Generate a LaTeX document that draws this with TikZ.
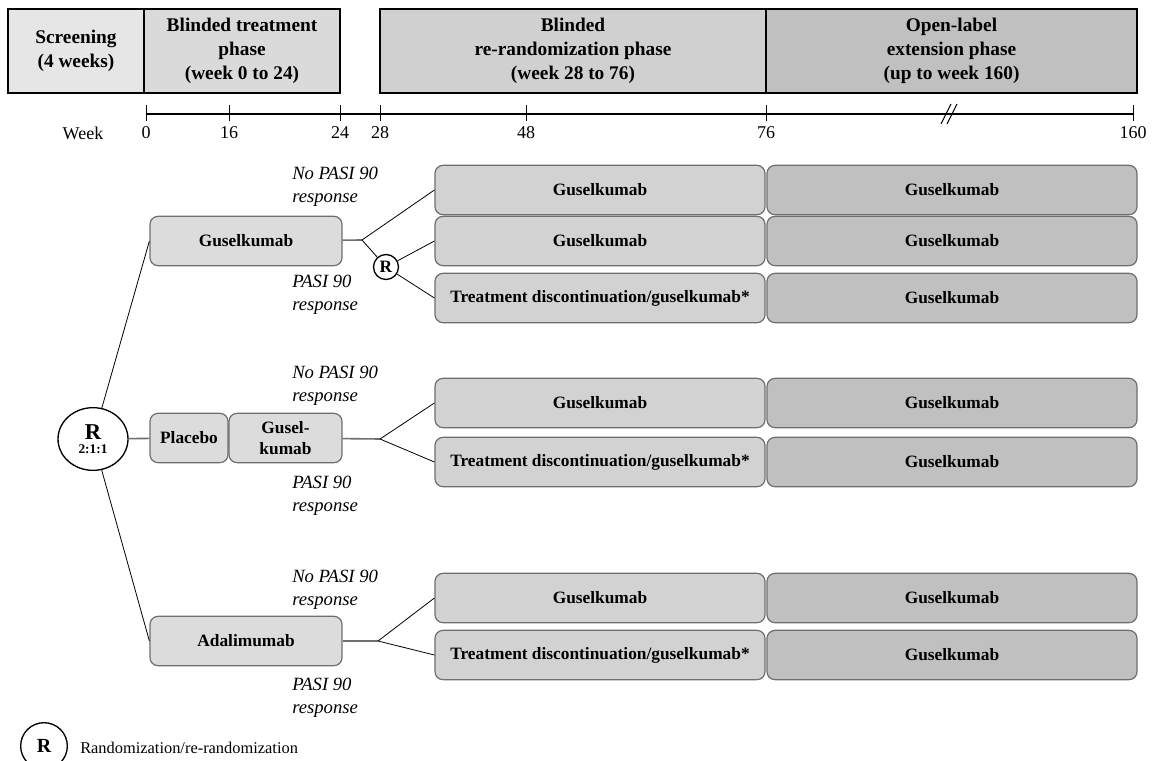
\documentclass[tikz,border=0pt]{standalone}
\usepackage{fontspec}
\setmainfont{Liberation Serif}
\usetikzlibrary{shapes.geometric}
\definecolor{screengray}{HTML}{E6E6E6}
\definecolor{treatgray}{HTML}{DADADA}
\definecolor{rerandgray}{HTML}{D1D0D1}
\definecolor{opengray}{HTML}{C0C0C0}
\definecolor{armgray}{HTML}{DCDCDC}
\definecolor{blindgray}{HTML}{D3D2D3}
\definecolor{edgegray}{HTML}{6E6E6E}
\begin{document}
\begin{tikzpicture}[x=0.75pt, y=-0.75pt,
    phase_box/.style={draw, line width=1.3pt, minimum height=63pt, inner sep=0pt, align=center,
        font=\fontsize{14.5}{18}\selectfont\bfseries},
    arm_box/.style={draw=edgegray, line width=0.9pt, rounded corners=6pt, minimum height=37pt,
        inner sep=0pt, align=center, font=\fontsize{13}{15.5}\selectfont\bfseries},
    blind_box/.style={arm_box, fill=blindgray, minimum width=247.5pt},
    open_box/.style={arm_box, fill=opengray, minimum width=277.5pt},
    resp_lbl/.style={anchor=west, align=left, inner sep=0pt, font=\fontsize{14}{17.5}\selectfont\itshape},
    wk_lbl/.style={font=\fontsize{13.5}{16}\selectfont},
    rand_node/.style={circle, draw, line width=1pt, inner sep=0pt, fill=white},
    feed_line/.style={draw=edgegray, line width=1.2pt},
    split_line/.style={line width=0.6pt}
]
\clip (0,0) rectangle (1162,760);

% Phases
\node[phase_box, fill=screengray, minimum width=102pt] (scr) at (76,51) {Screening\\(4 weeks)};
\node[phase_box, fill=treatgray, minimum width=147pt] (trt) at (242,51) {Blinded treatment\\phase\\(week 0 to 24)};
\node[phase_box, fill=rerandgray, minimum width=289.5pt] (rer) at (573,51) {Blinded\\re-randomization phase\\(week 28 to 76)};
\node[phase_box, fill=opengray, minimum width=278.25pt] (ole) at (951.5,51) {Open-label\\extension phase\\(up to week 160)};

% Week axis
\node[wk_lbl] (week) at (83,133) {Week};
\draw[line width=1.1pt] (146,114) -- (1133,114);
\foreach \w/\x in {0/146,16/229,24/340,28/380,48/526,76/766,160/1133} {
    \draw[line width=0.7pt] (\x,105) -- (\x,121);
    \node[wk_lbl] (w\w) at (\x,133) {\w};
}
\draw[line width=0.8pt] (941,124) -- (951,104);
\draw[line width=0.8pt] (947,124) -- (957,104);

% First randomization
\node[rand_node, ellipse, minimum width=52.5pt, minimum height=47pt, align=center] (R) at (93,439)
    {{\fontsize{17}{17}\selectfont\bfseries R}\\[-1pt]{\fontsize{10}{10}\selectfont\bfseries 2:1:1}};

\node[arm_box, fill=armgray, minimum width=144pt] (gus) at (246,241) {Guselkumab};
\node[arm_box, fill=armgray, minimum width=58.5pt] (plac) at (189,438) {Placebo};
\node[arm_box, fill=armgray, minimum width=84.75pt] (gk) at (285.5,438) {Gusel-\\kumab};
\node[arm_box, fill=armgray, minimum width=144pt] (ada) at (246,641) {Adalimumab};

\draw[split_line] (R) -- (gus.west);
\draw[feed_line] (R) -- (plac);
\draw[split_line] (R) -- (ada.west);

% Week 28 to 76
\node[blind_box] (b1) at (600,190) {Guselkumab};
\node[blind_box] (b2) at (600,241) {Guselkumab};
\node[blind_box] (b3) at (600,298) {Treatment discontinuation/guselkumab*};
\node[blind_box] (b4) at (600,403) {Guselkumab};
\node[blind_box] (b5) at (600,462) {Treatment discontinuation/guselkumab*};
\node[blind_box] (b6) at (600,598) {Guselkumab};
\node[blind_box] (b7) at (600,655) {Treatment discontinuation/guselkumab*};

% Open-label
\foreach \i/\y in {1/190,2/241,3/298,4/403,5/462,6/598,7/655}
    \node[open_box] (o\i) at (952,\y) {Guselkumab};

% Branches
\coordinate (j1) at (362,240);
\coordinate (j2) at (380,439);
\coordinate (j3) at (378,641);
\node[rand_node, minimum size=18.75pt, font=\fontsize{13}{13}\selectfont\bfseries] (r2) at (386,267) {R};

\draw[feed_line] (gus) -- (j1);
\draw[split_line] (j1) -- (b1.west);
\draw[split_line] (j1) -- (r2);
\draw[split_line] (r2) -- (b2.west);
\draw[split_line] (r2) -- (b3.west);

\draw[feed_line] (gk) -- (j2);
\draw[split_line] (j2) -- (b4.west);
\draw[split_line] (j2) -- (b5.west);

\draw[feed_line] (ada) -- (j3);
\draw[split_line] (j3) -- (b6.west);
\draw[split_line] (j3) -- (b7.west);

% Responses
\node[resp_lbl] (nr1) at (292,187) {No PASI 90\\response};
\node[resp_lbl] (pr1) at (292,295) {PASI 90\\response};
\node[resp_lbl] (nr2) at (292,386) {No PASI 90\\response};
\node[resp_lbl] (pr2) at (292,496) {PASI 90\\response};
\node[resp_lbl] (nr3) at (292,590) {No PASI 90\\response};
\node[resp_lbl] (pr3) at (292,698) {PASI 90\\response};

% Legend
\node[rand_node, minimum size=35pt, font=\fontsize{15}{15}\selectfont\bfseries] (leg) at (44,746) {R};
\node[anchor=west, inner sep=0pt, font=\fontsize{12.3}{14}\selectfont] (legtxt) at (80,748) {Randomization/re-randomization};
\end{tikzpicture}
\end{document}
